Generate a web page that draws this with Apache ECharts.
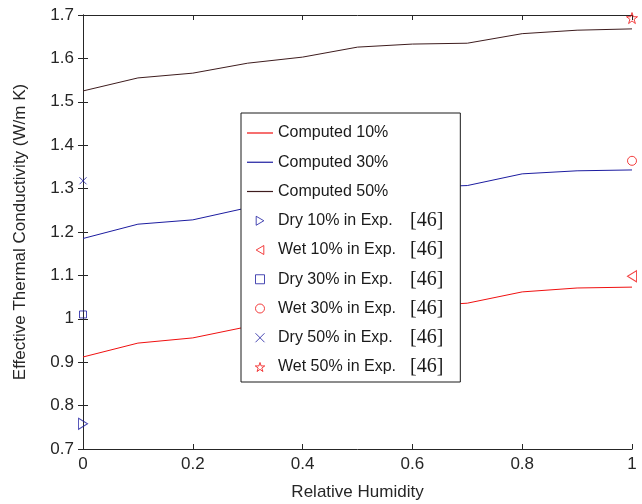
<!DOCTYPE html>
<html>
<head>
<meta charset="utf-8">
<script src="https://cdn.jsdelivr.net/npm/echarts@6/dist/echarts.min.js"></script>
<style>html,body{margin:0;padding:0;background:#fff;}#chart{width:642px;height:504px;}</style>
</head>
<body>
<div id="chart"></div>
<script>
var humidity = [0, 0.1, 0.2, 0.3, 0.4, 0.5, 0.6, 0.7, 0.8, 0.9, 1.0];
var computed10 = [0.912, 0.944, 0.956, 0.982, 0.997, 1.019, 1.028, 1.036, 1.062, 1.071, 1.073];
var computed30 = [1.185, 1.218, 1.228, 1.256, 1.272, 1.295, 1.303, 1.307, 1.334, 1.341, 1.343];
var computed50 = [1.525, 1.555, 1.566, 1.589, 1.603, 1.626, 1.633, 1.635, 1.657, 1.665, 1.668];
var dry10 = [[0, 0.758]];
var wet10 = [[1, 1.098]];
var dry30 = [[0, 1.010]];
var wet30 = [[1, 1.364]];
var dry50 = [[0, 1.318]];
var wet50 = [[1, 1.693]];
var xTicks = [0, 0.2, 0.4, 0.6, 0.8, 1];
var yTicks = [0.7, 0.8, 0.9, 1.0, 1.1, 1.2, 1.3, 1.4, 1.5, 1.6, 1.7];
var lineNames = ['Computed 10%', 'Computed 30%', 'Computed 50%'];
var markNames = ['Dry 10% in Exp.', 'Wet 10% in Exp.', 'Dry 30% in Exp.', 'Wet 30% in Exp.', 'Dry 50% in Exp.', 'Wet 50% in Exp.'];
var refLabel = '[46]';

var RED = '#f01010', BLUE = '#1c1ca0', BROWN = '#3e1c1e';
var FONT = 'Liberation Sans, Arial, sans-serif';
function pairs(ys) { return humidity.map(function (x, i) { return [x, ys[i]]; }); }
function lineSeries(name, ys, color) {
  return { name: name, type: 'line', data: pairs(ys), symbol: 'none', smooth: false,
    lineStyle: { color: color, width: 1 }, itemStyle: { color: color }, z: 2 };
}
function markSeries(name, data, symbol, size, color) {
  return { name: name, type: 'scatter', data: data, symbol: symbol, symbolSize: size, clip: false,
    itemStyle: { color: 'rgba(0,0,0,0)', borderColor: color, borderWidth: 1 }, z: 4 };
}
var STAR = 'path://M5,0 L6.18,3.62 L10,3.62 L6.91,5.86 L8.09,9.5 L5,7.26 L1.91,9.5 L3.09,5.86 L0,3.62 L3.82,3.62 Z';
var SQUARE = 'path://M0,0 L10,0 L10,10 L0,10 Z';
var TRI_R = 'path://M0,0 L8.5,5 L0,10 Z';
var TRI_L = 'path://M8.5,0 L0,5 L8.5,10 Z';
var CROSS = 'path://M0,0 L10,10 M10,0 L0,10';
var LINE_ICON = 'path://M0,0 L26,0 L26,1.2 L0,1.2 Z';
var chart = echarts.init(document.getElementById('chart'), null, { renderer: 'canvas' });
var axisCommon = {
  type: 'value', axisLine: { show: true, lineStyle: { color: '#262626', width: 1 } },
  axisTick: { show: true, inside: true, length: 5, lineStyle: { color: '#262626' } },
  splitLine: { show: false }
};
var legendData = lineNames.map(function (n) { return { name: n, icon: LINE_ICON }; })
  .concat(markNames.map(function (n) { return { name: n, itemStyle: { borderWidth: 1, color: 'rgba(0,0,0,0)' } }; }));
var option = {
  backgroundColor: '#fff',
  animation: false,
  textStyle: { fontFamily: FONT },
  grid: { left: 83, right: 10, top: 15, bottom: 55, containLabel: false, outerBoundsMode: 'none' },
  xAxis: [
    Object.assign({}, axisCommon, { position: 'bottom', min: xTicks[0], max: xTicks[xTicks.length - 1], interval: 0.2,
      name: 'Relative Humidity', nameLocation: 'middle', nameGap: 35,
      nameTextStyle: { fontSize: 17, color: '#262626', fontFamily: FONT },
      axisLabel: { fontSize: 17, color: '#262626', margin: 7, fontFamily: FONT } }),
    Object.assign({}, axisCommon, { position: 'top', min: xTicks[0], max: xTicks[xTicks.length - 1], interval: 0.2,
      axisLabel: { show: false } })
  ],
  yAxis: [
    Object.assign({}, axisCommon, { position: 'left', min: yTicks[0], max: yTicks[yTicks.length - 1], interval: 0.1,
      name: 'Effective Thermal Conductivity (W/m K)', nameLocation: 'middle', nameGap: 54,
      nameTextStyle: { fontSize: 17, color: '#262626', fontFamily: FONT },
      axisLabel: { fontSize: 17, color: '#262626', margin: 9, fontFamily: FONT,
        formatter: function (v) { return String(Math.round(v * 10) / 10); } } }),
    Object.assign({}, axisCommon, { position: 'right', min: yTicks[0], max: yTicks[yTicks.length - 1], interval: 0.1,
      axisLabel: { show: false } })
  ],
  legend: {
    orient: 'vertical', left: 241, top: 113,
    data: legendData,
    backgroundColor: '#fff', borderColor: '#1a1a1a', borderWidth: 1,
    padding: [10, 17, 5, 6],
    itemWidth: 26, itemHeight: 9, itemGap: 9.25,
    selectedMode: false,
    itemStyle: { borderWidth: 1 },
    textStyle: { fontSize: 16, color: '#1a1a1a', lineHeight: 20, fontFamily: FONT,
      rich: {
        a: { fontSize: 16, lineHeight: 20, width: 132, fontFamily: FONT, color: '#1a1a1a' },
        r: { fontSize: 20, lineHeight: 20, fontFamily: 'Liberation Serif, Times New Roman, serif', color: '#1a1a1a', verticalAlign: 'bottom' }
      } },
    formatter: function (name) {
      if (name.indexOf('Exp.') >= 0) return '{a|' + name + '}{r|' + refLabel + '}';
      return name;
    }
  },
  series: [
    lineSeries(lineNames[0], computed10, RED),
    lineSeries(lineNames[1], computed30, BLUE),
    lineSeries(lineNames[2], computed50, BROWN),
    markSeries(markNames[0], dry10, TRI_R, [9, 11], BLUE),
    markSeries(markNames[1], wet10, TRI_L, [9, 11], RED),
    markSeries(markNames[2], dry30, SQUARE, 7, BLUE),
    markSeries(markNames[3], wet30, 'circle', 9, RED),
    markSeries(markNames[4], dry50, CROSS, 7, BLUE),
    markSeries(markNames[5], wet50, STAR, 11, RED)
  ]
};
chart.setOption(option);
</script>
</body>
</html>
